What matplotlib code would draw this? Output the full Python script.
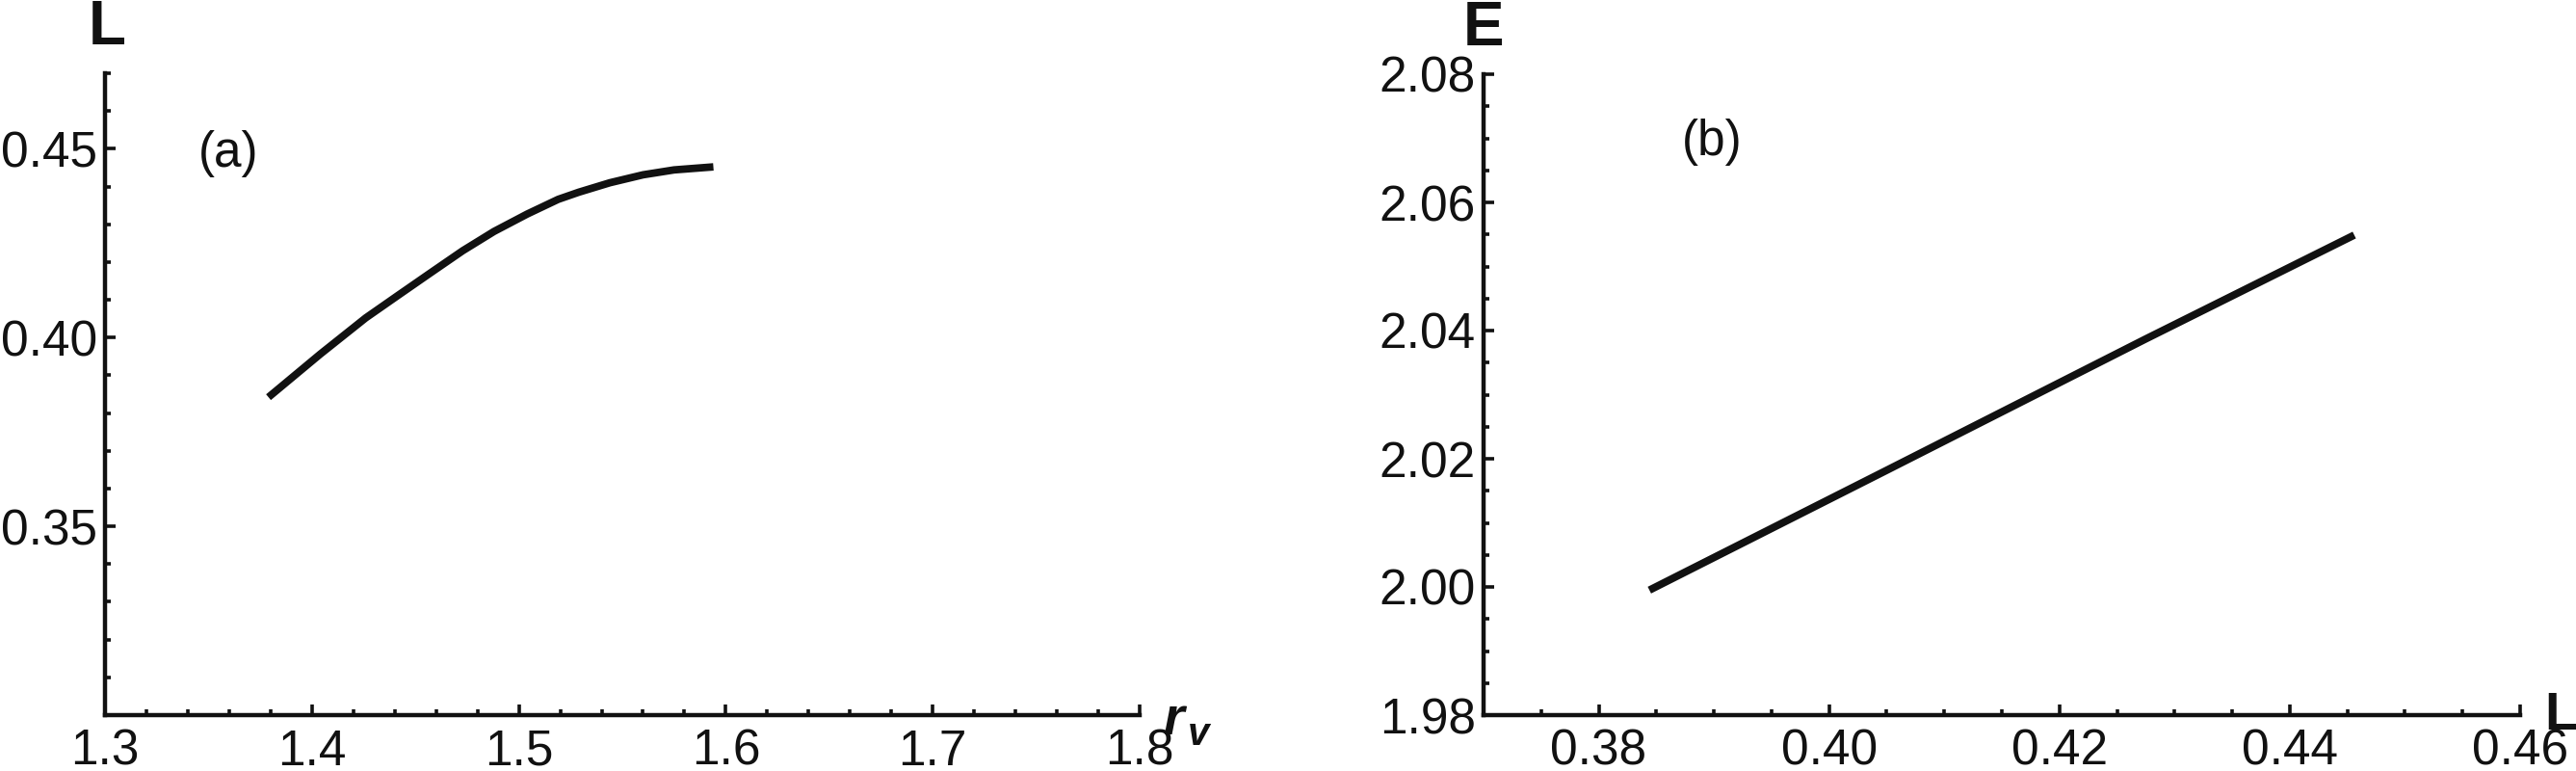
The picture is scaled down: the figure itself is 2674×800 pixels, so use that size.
import numpy as np
import matplotlib
matplotlib.use("Agg")
from matplotlib import pyplot as plt
from matplotlib.ticker import FixedLocator, FormatStrFormatter

# panel (a): L against r_v
rv = [1.379, 1.404, 1.426, 1.4417, 1.4575, 1.4729, 1.488, 1.504, 1.519,
      1.529, 1.544, 1.560, 1.575, 1.594]
L_a = [0.3842, 0.3956, 0.4052, 0.4112, 0.4172, 0.4230, 0.4281, 0.4327,
       0.4366, 0.4385, 0.4410, 0.4431, 0.4444, 0.4452]

# panel (b): E against L
L_b = [0.3844, 0.4050, 0.4275, 0.4456]
E_b = [1.9995, 2.0182, 2.0387, 2.0549]

a_xticks = [1.3, 1.4, 1.5, 1.6, 1.7, 1.8]
a_yticks = [0.35, 0.40, 0.45]
b_xticks = [0.38, 0.40, 0.42, 0.44, 0.46]
b_yticks = [1.98, 2.00, 2.02, 2.04, 2.06, 2.08]

plt.rcParams['font.family'] = ['Liberation Sans', 'DejaVu Sans']
ink = '#111111'
W, H = 2674, 800

fig = plt.figure(figsize=(W / 100, H / 100), dpi=100)
ax1 = fig.add_axes([109 / W, 58 / H, 1074 / W, 666 / H])
ax2 = fig.add_axes([1540 / W, 58 / H, 1076 / W, 665 / H])


def style(ax, xminor, yminor):
    for s in ['top', 'right']:
        ax.spines[s].set_visible(False)
    for s in ['left', 'bottom']:
        ax.spines[s].set_linewidth(3.2)
        ax.spines[s].set_color(ink)
    ax.xaxis.set_minor_locator(FixedLocator(xminor))
    ax.yaxis.set_minor_locator(FixedLocator(yminor))
    ax.tick_params(which='both', direction='in', color=ink, width=2.6,
                   labelsize=37, labelcolor=ink)
    ax.tick_params(which='major', length=8)
    ax.tick_params(which='minor', length=4.5)
    ax.tick_params(axis='x', pad=10)
    ax.tick_params(axis='y', pad=6)


ax1.plot(rv, L_a, color=ink, lw=5.6, solid_capstyle='butt',
         solid_joinstyle='round', clip_on=False)
ax1.set_xlim(1.3, 1.8)
ax1.set_ylim(0.30, 0.47)
ax1.set_xticks(a_xticks)
ax1.set_yticks(a_yticks)
ax1.xaxis.set_major_formatter(FormatStrFormatter('%.1f'))
ax1.yaxis.set_major_formatter(FormatStrFormatter('%.2f'))
style(ax1, np.arange(1.32, 1.8, 0.02), np.arange(0.31, 0.4701, 0.01))

ax2.plot(L_b, E_b, color=ink, lw=5.6, solid_capstyle='butt',
         solid_joinstyle='round', clip_on=False)
ax2.set_xlim(0.37, 0.46)
ax2.set_ylim(1.98, 2.08)
ax2.set_xticks(b_xticks)
ax2.set_yticks(b_yticks)
ax2.xaxis.set_major_formatter(FormatStrFormatter('%.2f'))
ax2.yaxis.set_major_formatter(FormatStrFormatter('%.2f'))
style(ax2, np.arange(0.375, 0.46, 0.005), np.arange(1.985, 2.08, 0.005))


# texts placed in pixel coordinates (y measured from the top)
def label(x, y, s, va='baseline', **kw):
    fig.text(x / W, 1 - y / H, s, color=ink, va=va, **kw)


label(111, 46, 'L', fontsize=46, fontweight='bold', ha='center')
label(1540, 47, 'E', fontsize=46, fontweight='bold', ha='center')
label(1207, 762, 'r', fontsize=40, fontweight='bold', fontstyle='italic')
label(1233, 773, 'v', fontsize=29, fontweight='bold', fontstyle='italic')
label(2641, 757, 'L', fontsize=40, fontweight='bold')

label(237, 160, '(a)', va='center', fontsize=37, ha='center')
label(1777, 148, '(b)', va='center', fontsize=37, ha='center')

fig.savefig('out.png', dpi=100, facecolor='white')
